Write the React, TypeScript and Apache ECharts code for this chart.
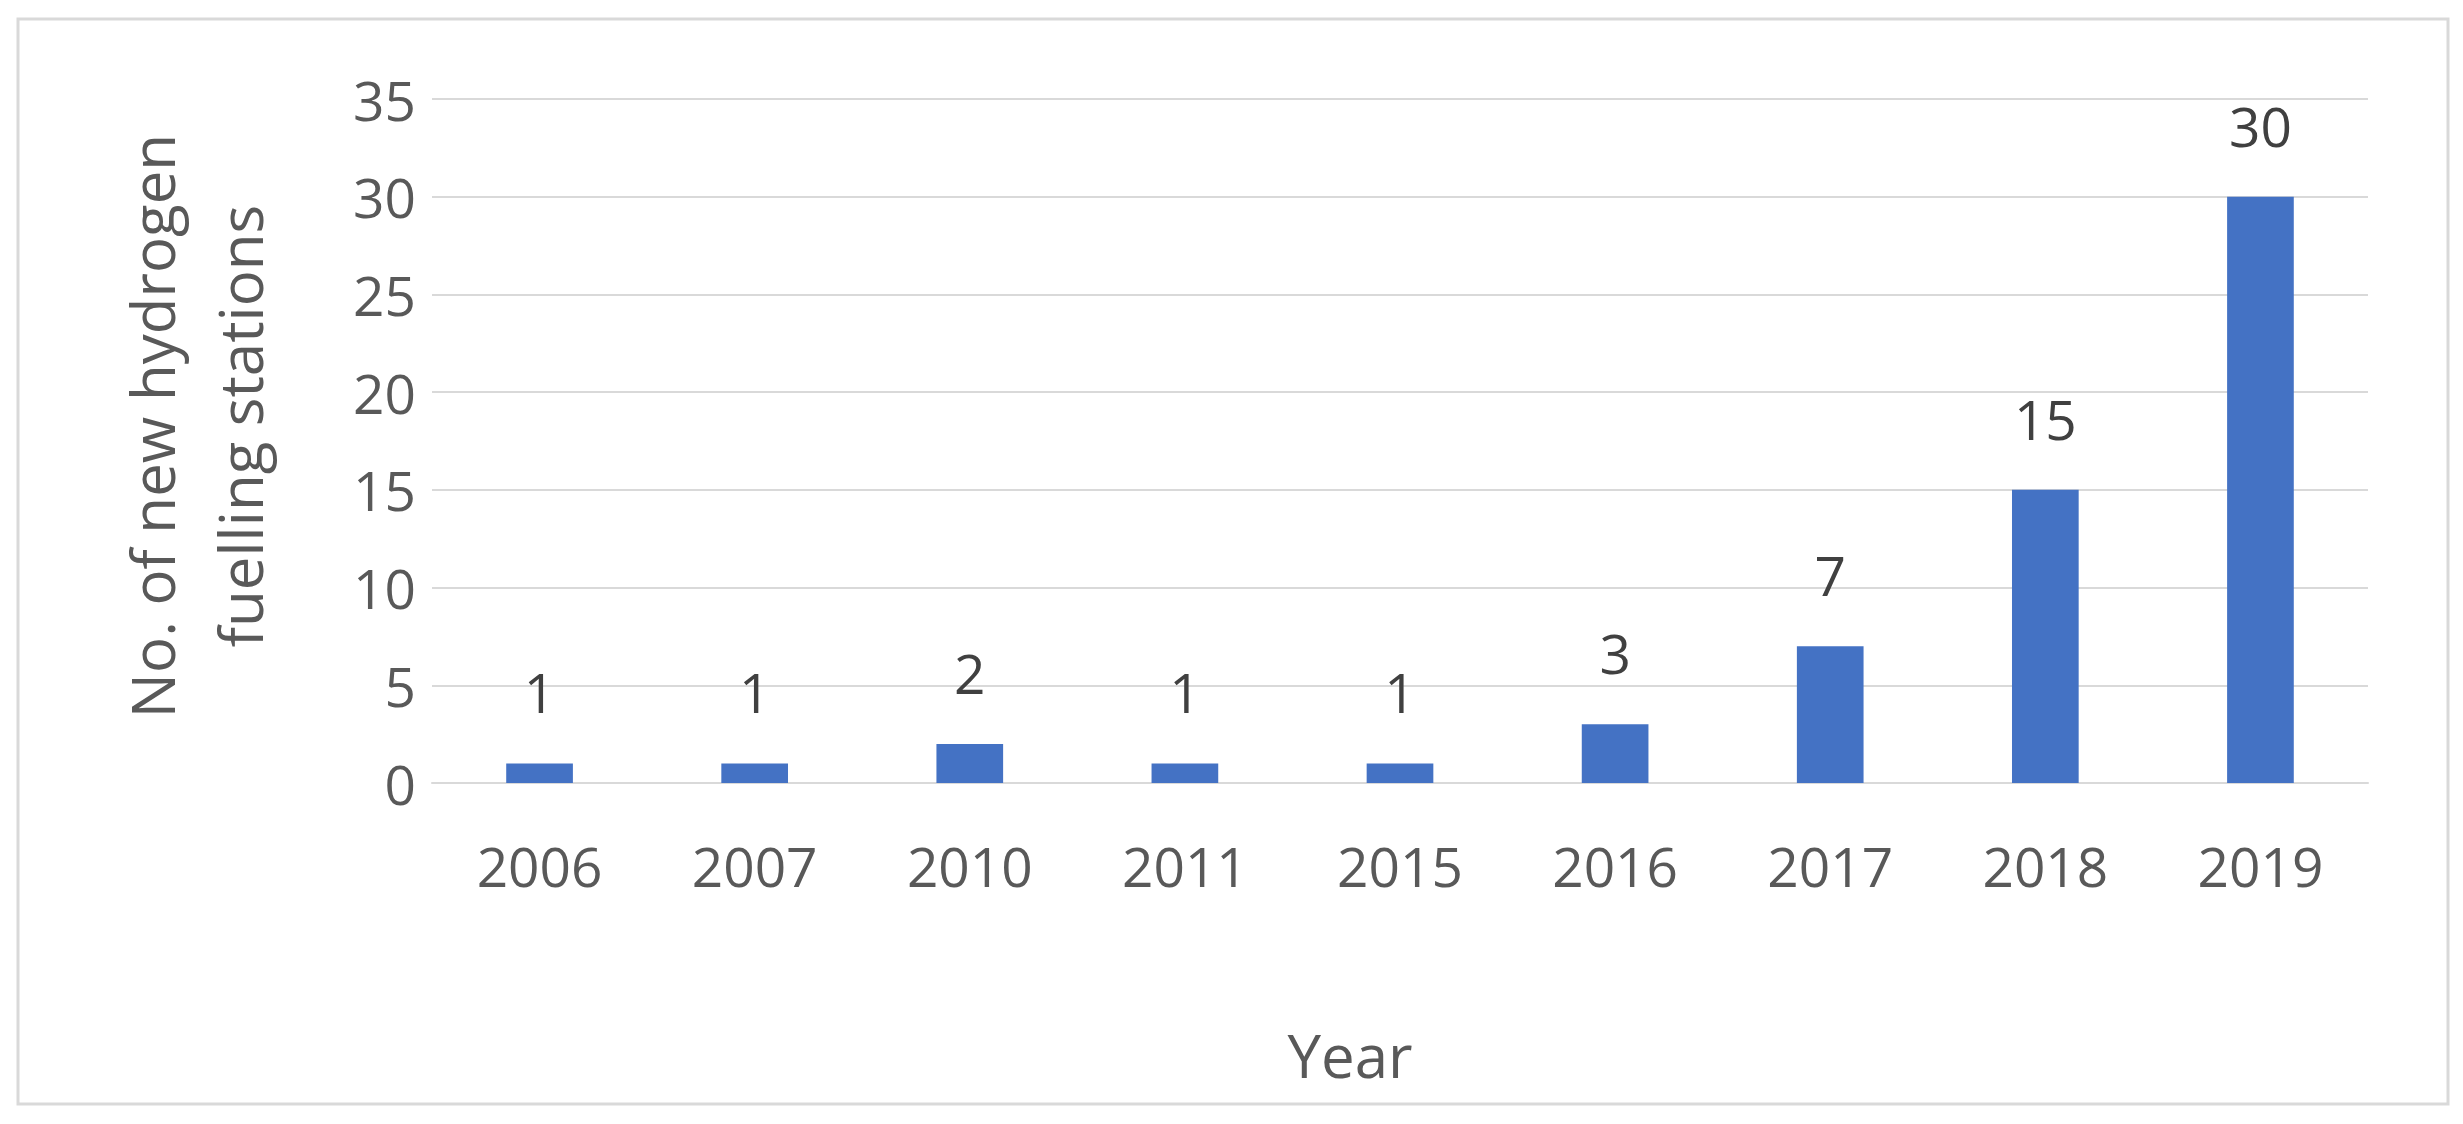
import React, { useEffect, useRef } from "react";
import * as echarts from "echarts";

const years = ["2006", "2007", "2010", "2011", "2015", "2016", "2017", "2018", "2019"];
const stations = [1, 1, 2, 1, 1, 3, 7, 15, 30];
const yTicks = { min: 0, max: 35, interval: 5 };
const xTitle = "Year";
const yTitle = "No. of new hydrogen\nfuelling stations";

const FONT = "'Open Sans', 'Noto Sans', sans-serif";

export default function App() {
  const ref = useRef<HTMLDivElement>(null);
  useEffect(() => {
    document.body.style.margin = "0";
    const chart = echarts.init(ref.current!, null, { renderer: "svg" });
    chart.setOption({
      animation: false,
      backgroundColor: "#ffffff",
      textStyle: { fontFamily: FONT },
      grid: { left: 432, right: 95, top: 99, bottom: 341, containLabel: false },
      graphic: [
        {
          type: "rect",
          shape: { x: 18, y: 19, width: 2430, height: 1085 },
          style: { fill: "none", stroke: "#d9d9d9", lineWidth: 3 },
          silent: true,
        },
      ],
      xAxis: {
        type: "category",
        data: years,
        name: xTitle,
        nameLocation: "middle",
        nameGap: 242,
        nameTextStyle: { fontSize: 60, color: "#595959", fontFamily: FONT, padding: [0, 100, 0, 0] },
        axisLine: { show: true, lineStyle: { color: "#d9d9d9", width: 2 } },
        axisTick: { show: false },
        axisLabel: { fontSize: 55, color: "#595959", margin: 55, lineHeight: 55, fontFamily: FONT },
      },
      yAxis: {
        type: "value",
        min: yTicks.min,
        max: yTicks.max,
        interval: yTicks.interval,
        name: yTitle,
        nameLocation: "middle",
        nameRotate: 90,
        nameGap: 148,
        nameTextStyle: { fontSize: 60, color: "#595959", lineHeight: 88, fontFamily: FONT, padding: [0, 0, 0, 30] },
        axisLine: { show: false },
        axisTick: { show: false },
        axisLabel: { fontSize: 55, color: "#595959", margin: 16, fontFamily: FONT },
        splitLine: { lineStyle: { color: "#d9d9d9", width: 2 } },
      },
      series: [
        {
          type: "bar",
          data: stations,
          barWidth: "31%",
          itemStyle: { color: "#4472C4" },
          label: {
            show: true,
            position: "top",
            distance: 44,
            fontSize: 55,
            lineHeight: 55,
            color: "#404040",
            fontFamily: FONT,
          },
        },
      ],
    });
    return () => chart.dispose();
  }, []);
  return <div ref={ref} style={{ width: 2463, height: 1124 }} />;
}
